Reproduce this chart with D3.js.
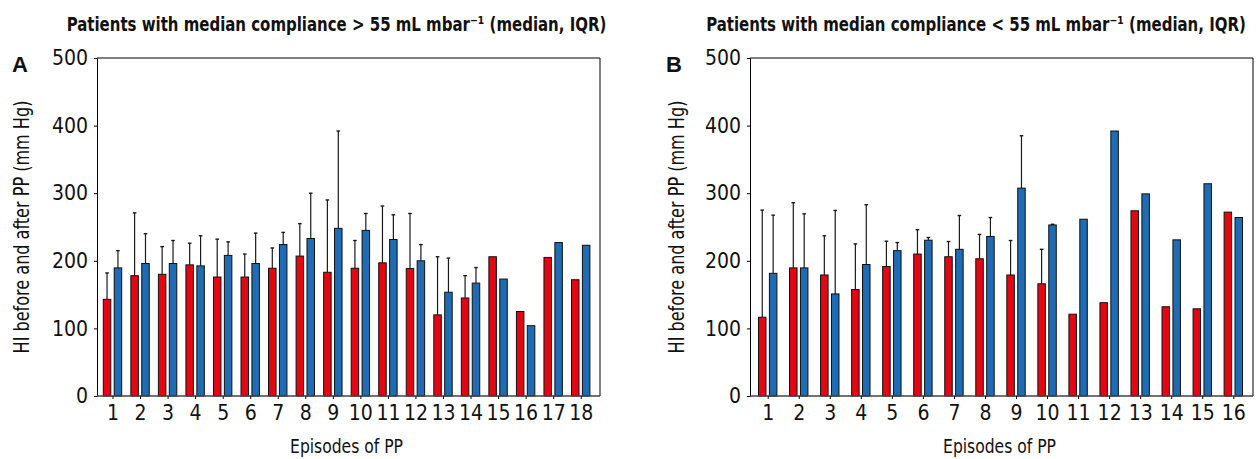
<!DOCTYPE html>
<html>
<head>
<meta charset="utf-8">
<script src="https://cdn.jsdelivr.net/npm/d3@7/dist/d3.min.js"></script>
<style>
  html, body { margin: 0; padding: 0; background: #fff; }
  svg { display: block; }
  .cond { font-family: "Liberation Sans Narrow", "DejaVu Sans Condensed", "Roboto Condensed", "Arial Narrow", sans-serif; }
</style>
</head>
<body>
<svg id="chart" width="1258" height="459"></svg>
<script>
// ---- Data ----
const episodesA = ["1","2","3","4","5","6","7","8","9","10","11","12","13","14","15","16","17","18"];
const beforeA   = [143, 178, 180, 194, 176, 176, 189, 207, 183, 189, 197, 188.5, 120, 145, 206, 125, 205, 172];
const afterA    = [189.5, 196, 196, 192.5, 208, 196, 224, 233, 248, 245, 231.5, 200, 153.5, 167, 173, 104, 227, 223];
const beforeAq3 = [182, 271, 221, 226, 232, 210, 219, 255, 290, 230, 281, 270, 206, 178, null, null, null, null];
const afterAq3  = [215, 240, 230, 237, 228, 241, 242, 300, 392, 270, 268, 224, 204, 190, null, null, null, null];

const episodesB = ["1","2","3","4","5","6","7","8","9","10","11","12","13","14","15","16"];
const beforeB   = [116.5, 189.5, 179, 157.5, 191.5, 210, 206, 203, 179, 166, 121, 138, 274, 132, 129, 272];
const afterB    = [181.5, 189.5, 151, 194.5, 215, 230.5, 217, 236, 307.5, 253, 261.5, 392, 299, 231, 314, 264];
const beforeBq3 = [275, 286, 237, 225, 229, 246, 228.5, 239, 230, 217, null, null, null, null, null, null];
const afterBq3  = [267.5, 269.5, 274.5, 283, 227, 234.5, 267, 264, 385, 254, null, null, null, null, null, null];

const yTicks = [0, 100, 200, 300, 400, 500];
const titleA = "Patients with median compliance > 55 mL mbar\u207B\u00B9 (median, IQR)";
const titleB = "Patients with median compliance < 55 mL mbar\u207B\u00B9 (median, IQR)";
const yLabel = "HI before and after PP (mm Hg)";
const xLabel = "Episodes of PP";

const RED = "#e30613", BLUE = "#1f6bb4";

const svg = d3.select("#chart");

// fit a text horizontally to a target width by scaling (keeps glyph height)
function fitText(sel, cx, cy, target, rotate) {
  const w = sel.node().getComputedTextLength();
  const sx = target / w;
  sel.attr("transform", `translate(${cx},${cy})${rotate ? " rotate(-90)" : ""} scale(${sx},1)`);
}

function drawPanel(cfg) {
  const g = svg.append("g");
  const y = d3.scaleLinear().domain([0, 500]).range([396, 58]);
  const x = d3.scalePoint().domain(cfg.cats).range(cfg.pointRange);
  const bw = 7.5, off = 5.45;

  // frame (top + right)
  g.append("path")
    .attr("d", `M${cfg.left},${y(500)}H${cfg.right}V${y(0)}`)
    .attr("fill", "none").attr("stroke", "#000").attr("stroke-width", 1);

  const series = [
    { vals: cfg.before, q3: cfg.beforeQ3, color: RED, dx: -off },
    { vals: cfg.after,  q3: cfg.afterQ3,  color: BLUE, dx: off }
  ];

  series.forEach(s => {
    const data = cfg.cats.map((c, i) => ({ c, v: s.vals[i], q: s.q3[i] }));
    const eb = g.append("g");
    data.filter(d => d.q != null).forEach(d => {
      const cx = x(d.c) + s.dx;
      eb.append("line").attr("x1", cx).attr("x2", cx)
        .attr("y1", y(d.v)).attr("y2", y(d.q))
        .attr("stroke", "#1a1a1a").attr("stroke-width", 1.2);
      eb.append("line").attr("x1", cx - 1.8).attr("x2", cx + 1.8)
        .attr("y1", y(d.q)).attr("y2", y(d.q))
        .attr("stroke", "#1a1a1a").attr("stroke-width", 1.4);
    });
    g.append("g").selectAll("rect").data(data).join("rect")
      .attr("x", d => x(d.c) + s.dx - bw / 2)
      .attr("y", d => y(d.v))
      .attr("width", bw)
      .attr("height", d => y(0) - y(d.v))
      .attr("fill", s.color)
      .attr("stroke", "#111")
      .attr("stroke-width", 1);
  });

  // y axis
  const ya = g.append("g").attr("transform", `translate(${cfg.left},0)`)
    .call(d3.axisLeft(y).tickValues(yTicks).tickSize(3).tickPadding(6).tickFormat(d3.format("d")));
  ya.select(".domain").attr("stroke", "#000").attr("stroke-width", 1);
  ya.selectAll(".tick line").attr("stroke", "#000");
  ya.selectAll("text").attr("class", "cond").attr("font-size", 21).attr("fill", "#111")
    .attr("font-family", null);

  // x axis
  const xa = g.append("g").attr("transform", `translate(0,${y(0)})`)
    .call(d3.axisBottom(x).tickSize(3).tickPadding(6));
  xa.select(".domain").attr("d", `M${cfg.left},0H${cfg.right}`)
    .attr("stroke", "#444").attr("stroke-width", 1.6);
  xa.selectAll(".tick line").attr("stroke", "#000");
  xa.selectAll("text").attr("class", "cond").attr("font-size", 21).attr("fill", "#111")
    .attr("font-family", null);

  // x label
  const xl = g.append("text").attr("class", "cond")
    .attr("text-anchor", "middle").attr("font-size", 19).attr("fill", "#111")
    .text(xLabel);
  fitText(xl, (cfg.left + cfg.right) / 2 - 2, 453, 113, false);

  // y label
  const yl = g.append("text").attr("class", "cond")
    .attr("text-anchor", "middle").attr("dominant-baseline", "central")
    .attr("font-size", 21).attr("fill", "#111")
    .text(yLabel);
  fitText(yl, cfg.ylabX, (y(0) + y(500)) / 2, 253, true);

  // panel letter
  g.append("text").attr("x", cfg.letterX).attr("y", 72)
    .attr("font-family", "Liberation Sans, Arial, sans-serif")
    .attr("font-weight", "bold").attr("font-size", 22).attr("fill", "#111")
    .text(cfg.letter);

  // title
  const t = g.append("text").attr("class", "cond")
    .attr("text-anchor", "middle").attr("font-size", 20).attr("font-weight", "bold")
    .attr("fill", "#111")
    .text(cfg.title);
  fitText(t, cfg.titleX, 31, 540, false);
}

drawPanel({
  cats: episodesA, before: beforeA, after: afterA, beforeQ3: beforeAq3, afterQ3: afterAq3,
  left: 97, right: 600, pointRange: [112.5, 580.7],
  ylabX: 22, letterX: 12, letter: "A", titleX: 336.5, title: titleA
});
drawPanel({
  cats: episodesB, before: beforeB, after: afterB, beforeQ3: beforeBq3, afterQ3: afterBq3,
  left: 750, right: 1253, pointRange: [767.7, 1233.3],
  ylabX: 677, letterX: 666, letter: "B", titleX: 976, title: titleB
});
</script>
</body>
</html>
